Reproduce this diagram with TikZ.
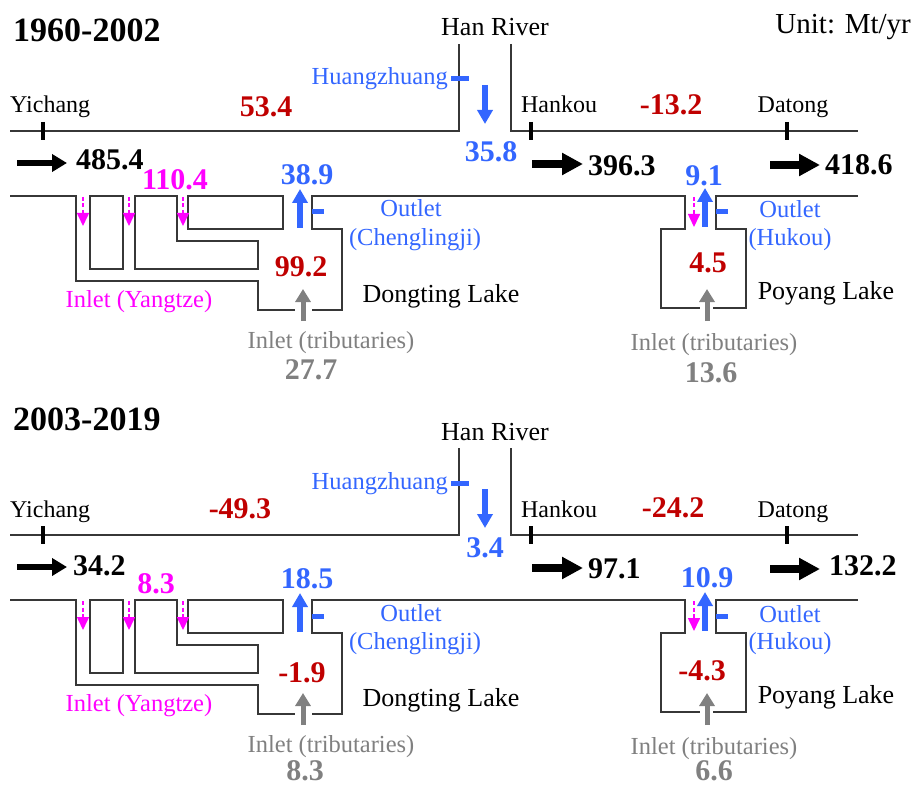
\documentclass[tikz,border=0pt]{standalone}
\usepackage{fontspec}
\setmainfont{Liberation Serif}
\usetikzlibrary{arrows.meta}
\definecolor{cblue}{RGB}{51,102,255}
\definecolor{cmag}{RGB}{255,0,255}
\definecolor{cred}{RGB}{192,0,0}
\definecolor{cgray}{RGB}{128,128,128}
\definecolor{cline}{RGB}{55,55,55}

\newcommand\riverpanel{%
  % upper bank with Han River
  \draw[bank] (10,131) -- (459,131) -- (459,44);
  \draw[bank] (511,44) -- (511,131) -- (858,131);
  % lower bank with Dongting and Poyang lakes
  \draw[bank] (10,196) -- (76,196) -- (76,281) -- (258,281) -- (258,310) -- (295,310);
  \draw[bank] (312,310) -- (342,310) -- (342,229) -- (312,229) -- (312,196) -- (685,196)
              -- (685,229) -- (661,229) -- (661,308) -- (700,308);
  \draw[bank] (713,308) -- (746,308) -- (746,229) -- (716,229) -- (716,196) -- (858,196);
  \draw[bank] (90,196) rectangle (123,269);
  \draw[bank] (135,196) -- (177,196) -- (177,241) -- (258,241) -- (258,269) -- (135,269) -- cycle;
  \draw[bank] (188,196) rectangle (283,229);
  % station ticks
  \coordinate (yt1) at (43,122);  \coordinate (yt2) at (43,140);
  \coordinate (ht1) at (531,122); \coordinate (ht2) at (531,140);
  \coordinate (dt1) at (787,122); \coordinate (dt2) at (787,140);
  \draw[tick] (yt1) -- (yt2);
  \draw[tick] (ht1) -- (ht2);
  \draw[tick] (dt1) -- (dt2);
  \coordinate (hz1) at (451,79); \coordinate (hz2) at (469,79);
  \coordinate (cl1) at (312,212); \coordinate (cl2) at (324,212);
  \coordinate (hk1) at (716,212); \coordinate (hk2) at (728,212);
  \draw[btick] (hz1) -- (hz2);
  \draw[btick] (cl1) -- (cl2);
  \draw[btick] (hk1) -- (hk2);
  % main-stem flux arrows
  \coordinate (fy1) at (17,163);  \coordinate (fy2) at (67,163);
  \coordinate (fh1) at (532,164); \coordinate (fh2) at (583,164);
  \coordinate (fd1) at (770,165); \coordinate (fd2) at (820,165);
  \draw[fluxsmall] (fy1) -- (fy2);
  \draw[fluxbig] (fh1) -- (fh2);
  \draw[fluxbig] (fd1) -- (fd2);
  % Han River inflow
  \coordinate (hn1) at (485,85); \coordinate (hn2) at (485,124);
  \draw[bluearr] (hn1) -- (hn2);
  % lake outlets
  \coordinate (co1) at (300,228); \coordinate (co2) at (300,189);
  \coordinate (ho1) at (705,227); \coordinate (ho2) at (705,188);
  \draw[bluearr] (co1) -- (co2);
  \draw[bluearr] (ho1) -- (ho2);
  % tributary inlets
  \coordinate (dtr1) at (303,321); \coordinate (dtr2) at (303,289);
  \coordinate (ptr1) at (707,321); \coordinate (ptr2) at (707,289);
  \draw[grayarr] (dtr1) -- (dtr2);
  \draw[grayarr] (ptr1) -- (ptr2);
  % Yangtze inlets
  \coordinate (m1a) at (83,197);  \coordinate (m1b) at (83,226);
  \coordinate (m2a) at (129,197); \coordinate (m2b) at (129,226);
  \coordinate (m3a) at (183,197); \coordinate (m3b) at (183,226);
  \coordinate (m4a) at (694,197); \coordinate (m4b) at (694,227);
  \draw[magarr] (m1a) -- (m1b);
  \draw[magarr] (m2a) -- (m2b);
  \draw[magarr] (m3a) -- (m3b);
  \draw[magarr] (m4a) -- (m4b);
  % fixed labels
  \node[lake] (han) at (495,36) {Han River};
  \node[clabel, cblue, anchor=base east] (hzl) at (448,85) {Huangzhuang};
  \node[station, anchor=base west] (ych) at (10,113) {Yichang};
  \node[station] (hkl) at (559,113) {Hankou};
  \node[station] (dtl) at (793,113) {Datong};
  \node[clabel, cblue] (col) at (411,217) {Outlet};
  \node[clabel, cblue] (cll) at (415,245) {(Chenglingji)};
  \node[clabel, cblue] (hol) at (790,218) {Outlet};
  \node[clabel, cblue] (hkk) at (790,245) {(Hukou)};
  \node[lake] (dtg) at (441,302) {Dongting Lake};
  \node[lake] (pyg) at (826,299) {Poyang Lake};
  \node[clabel, cmag] (iny) at (139,307) {Inlet (Yangtze)};
  \node[clabel, cgray] (itd) at (331,348) {Inlet (tributaries)};
  \node[clabel, cgray] (itp) at (714,350) {Inlet (tributaries)};
}

\begin{document}
\begin{tikzpicture}[x=1pt,y=-1pt,
  bank/.style={draw=cline, line width=1.6pt},
  tick/.style={black, line width=4.5pt},
  btick/.style={cblue, line width=5pt},
  fluxbig/.style={black, line width=8pt, -{Triangle[length=21pt,width=21pt]}},
  fluxsmall/.style={black, line width=6pt, -{Triangle[length=15pt,width=17pt]}},
  bluearr/.style={cblue, line width=5.5pt, -{Triangle[length=14pt,width=15pt]}},
  grayarr/.style={cgray, line width=5pt, -{Triangle[length=13pt,width=15pt]}},
  magarr/.style={cmag, line width=1.6pt, dash pattern=on 4pt off 2.5pt, -{Triangle[length=13pt,width=12pt]}},
  station/.style={font=\fontsize{24}{28}\selectfont, inner sep=0pt, anchor=base},
  lake/.style={font=\fontsize{26}{30}\selectfont, inner sep=0pt, anchor=base},
  clabel/.style={font=\fontsize{24.5}{28}\selectfont, inner sep=0pt, anchor=base},
  num/.style={font=\fontsize{30}{34}\selectfont\bfseries, inner sep=0pt, anchor=base},
  numw/.style={num, anchor=base west},
  ttl/.style={font=\fontsize{34}{40}\selectfont\bfseries, inner sep=0pt, anchor=base west},
]
\useasboundingbox (0,0) rectangle (917,786);

\node[font=\fontsize{29}{34}\selectfont, inner sep=0pt, anchor=base east] (unit) at (911,34) {Unit: Mt/yr};

% ---------- 1960-2002 ----------
\begin{scope}[name prefix=A-]
  \riverpanel
  \node[ttl] (title) at (13,42) {1960-2002};
  \node[num, cred] (r1) at (266,117) {53.4};
  \node[num, cred] (r2) at (671,115) {-13.2};
  \node[num, cblue] (hanv) at (491,162) {35.8};
  \node[numw] (yv) at (76,170) {485.4};
  \node[numw] (hv) at (588,176) {396.3};
  \node[numw] (dv) at (825,175) {418.6};
  \node[num, cmag] (yin) at (175,190) {110.4};
  \node[num, cblue] (clv) at (307,185) {38.9};
  \node[num, cblue] (hkv) at (704,186) {9.1};
  \node[num, cred] (dch) at (301,276) {99.2};
  \node[num, cred] (pch) at (708,272) {4.5};
  \node[num, cgray] (dtv) at (311,379) {27.7};
  \node[num, cgray] (ptv) at (711,382) {13.6};
\end{scope}

% ---------- 2003-2019 ----------
\begin{scope}[yshift=-404pt, name prefix=B-]
  \riverpanel
  \node[ttl] (title) at (13,26) {2003-2019};
  \node[num, cred] (r1) at (240,114) {-49.3};
  \node[num, cred] (r2) at (673,113) {-24.2};
  \node[num, cblue] (hanv) at (485,153) {3.4};
  \node[numw] (yv) at (73,171) {34.2};
  \node[numw] (hv) at (588,174) {97.1};
  \node[numw] (dv) at (829,171) {132.2};
  \node[num, cmag] (yin) at (156,189) {8.3};
  \node[num, cblue] (clv) at (307,184) {18.5};
  \node[num, cblue] (hkv) at (707,183) {10.9};
  \node[num, cred] (dch) at (302,278) {-1.9};
  \node[num, cred] (pch) at (702,276) {-4.3};
  \node[num, cgray] (dtv) at (305,376) {8.3};
  \node[num, cgray] (ptv) at (714,376) {6.6};
\end{scope}
\end{tikzpicture}
\end{document}
